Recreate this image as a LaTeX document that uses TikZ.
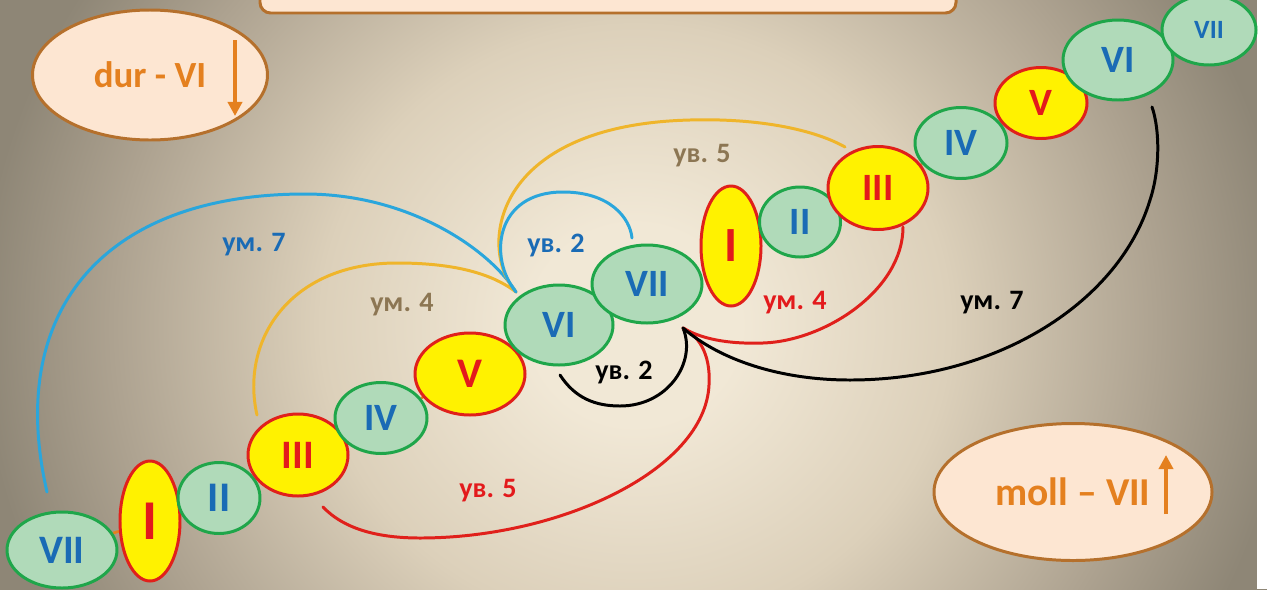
\documentclass[tikz,border=0pt]{standalone}
\usepackage{fontspec}
\setmainfont{Carlito}
\usetikzlibrary{shapes.geometric,arrows.meta,backgrounds}

\definecolor{bgin}{HTML}{F1E8D6}
\definecolor{bgmid}{HTML}{DCD0BA}
\definecolor{bgdark}{HTML}{ADA290}
\definecolor{bgout}{HTML}{8E8676}
\definecolor{grnfill}{HTML}{B0DAB9}
\definecolor{grnline}{HTML}{1FA64A}
\definecolor{romblue}{HTML}{1A6BB5}
\definecolor{romred}{HTML}{E31A1C}
\definecolor{redline}{HTML}{E0201B}
\definecolor{skyb}{HTML}{2AA6DC}
\definecolor{gold}{HTML}{EFB52B}
\definecolor{lbrown}{HTML}{8C7653}
\definecolor{keyfill}{HTML}{FDE6D2}
\definecolor{keyline}{HTML}{B5702C}
\definecolor{keytext}{HTML}{E4801F}

\pgfdeclareradialshading{bgshade}{\pgfpoint{0bp}{0bp}}{color(0bp)=(bgin); color(4bp)=(bgin); color(12bp)=(bgmid); color(20bp)=(bgdark); color(25bp)=(bgout); color(50bp)=(bgout)}
\newcommand\fs[1]{\fontsize{#1}{#1}\selectfont\bfseries}

\begin{document}
\begin{tikzpicture}
[x=0.02cm,y=-0.02cm,
 deg/.style={ellipse,draw=grnline,fill=grnfill,text=romblue,line width=1.7pt,inner sep=0pt},
 tonic/.style={ellipse,draw=redline,fill=yellow,text=romred,line width=1.7pt,inner sep=0pt},
 sz/.style 2 args={minimum width=#1*0.02cm,minimum height=#2*0.02cm},
 arc/.style={line width=1.7pt,line cap=round},
 lbl/.style={font=\fs{16}},
 keybox/.style={ellipse,draw=keyline,fill=keyfill,text=keytext,line width=1.7pt,inner sep=0pt},
 keyarr/.style={draw=keytext,line width=2pt,-{Triangle[length=8pt,width=8pt]}},
 chain/.style={draw=keytext,line width=1.5pt}]
\useasboundingbox (0,0) rectangle (1267,589);
\clip (0,0) rectangle (1267,589);

\node[draw=keyline,fill=keyfill,line width=1.7pt,rounded corners=6pt,sz={696}{50}] (title) at (608,-12) {};

\node[keybox,sz={235}{130},font=\fs{21}] (dur) at (150,75) {dur - VI};
\coordinate (durtop) at (235,40);
\coordinate (durbot) at (235,116);
\draw[keyarr] (durtop) -- (durbot);
\node[keybox,sz={278}{137},font=\fs{22.5}] (moll) at (1073,492) {moll – VII};
\coordinate (mollbot) at (1166,514);
\coordinate (molltop) at (1166,455);
\draw[keyarr] (mollbot) -- (molltop);

\node[deg,sz={110}{76},font=\fs{23}] (vii0) at (62,550) {VII};
\node[tonic,sz={60}{120},font=\fs{32}] (i1) at (150,521) {I};
\node[deg,sz={82}{71},font=\fs{24}] (ii1) at (219,498) {II};
\node[tonic,sz={100}{82},font=\fs{23}] (iii1) at (298,455) {III};
\node[deg,sz={92}{71},font=\fs{22}] (iv1) at (381,418) {IV};
\node[tonic,sz={110}{82},font=\fs{24}] (v1) at (470,374) {V};
\node[deg,sz={108}{80},font=\fs{22}] (vi1) at (559,325) {VI};
\node[deg,sz={110}{78},font=\fs{22}] (vii1) at (647,284) {VII};
\node[tonic,sz={60}{120},font=\fs{28}] (i2) at (731,246) {I};
\node[deg,sz={81}{70},font=\fs{22}] (ii2) at (800,222) {II};
\node[tonic,sz={100}{83},font=\fs{22}] (iii2) at (878,188) {III};
\node[deg,sz={92}{71},font=\fs{22}] (iv2) at (961,143) {IV};
\node[tonic,sz={92}{71},font=\fs{22}] (v2) at (1041,103) {V};
\node[deg,sz={110}{80},font=\fs{22}] (vi2) at (1118,60) {VI};
\node[deg,sz={94}{70},font=\fs{15}] (vii2) at (1209,30) {VII};

\begin{scope}[on background layer]
\shade[shading=bgshade] (-20,-300) rectangle (1290,950);
\fill[white] (1257,0) rectangle (1267,589);
\draw[chain] (vii0) -- (i1) -- (ii1) -- (iii1) -- (iv1) -- (v1) -- (vi1) -- (vii1);
\draw[chain] (i2) -- (ii2) -- (iii2) -- (iv2) -- (v2) -- (vi2) -- (vii2);
\end{scope}

\coordinate (j6) at (516,292);
\coordinate (j7) at (683,328);
\coordinate (a7) at (47,492);
\coordinate (a4) at (257,415);
\coordinate (a5) at (845,147);
\coordinate (a2) at (632,238);
\coordinate (b2) at (560,375);
\coordinate (b5) at (323,507);
\coordinate (b4) at (903,227);
\coordinate (b7) at (1152,107);

\draw[arc,skyb] (a7) .. controls (5,310) and (105,194) .. (305,194) .. controls (410,194) and (490,250) .. (j6);
\draw[arc,gold] (a4) .. controls (240,340) and (290,263) .. (397,263) .. controls (450,263) and (490,272) .. (j6);
\draw[arc,gold] (j6) .. controls (478,250) and (490,125) .. (690,120) .. controls (760,118) and (815,130) .. (a5);
\draw[arc,skyb] (j6) .. controls (488,258) and (495,192) .. (563,192) .. controls (610,192) and (630,218) .. (a2);
\draw[arc,black] (b2) .. controls (575,398) and (595,406) .. (620,406) .. controls (668,406) and (697,362) .. (j7);
\draw[arc,redline] (b5) .. controls (345,530) and (380,538) .. (420,538) .. controls (560,538) and (705,470) .. (709,385) .. controls (711,352) and (697,335) .. (j7);
\draw[arc,redline] (j7) .. controls (705,341) and (735,344) .. (763,343) .. controls (825,341) and (903,290) .. (b4);
\draw[arc,black] (j7) .. controls (720,360) and (780,380) .. (850,380) .. controls (1000,380) and (1120,300) .. (1150,200) .. controls (1160,170) and (1160,130) .. (b7);

\node[lbl,text=romblue] (um7a) at (254,245) {ум. 7};
\node[lbl,text=lbrown] (um4a) at (402,305) {ум. 4};
\node[lbl,text=romblue] (uv2a) at (556,245) {ув. 2};
\node[lbl,text=lbrown] (uv5a) at (702,156) {ув. 5};
\node[lbl,text=black] (uv2b) at (624,372) {ув. 2};
\node[lbl,text=romred] (um4b) at (795,303) {ум. 4};
\node[lbl,text=black] (um7b) at (992,303) {ум. 7};
\node[lbl,text=romred] (uv5b) at (488,491) {ув. 5};
\end{tikzpicture}
\end{document}
